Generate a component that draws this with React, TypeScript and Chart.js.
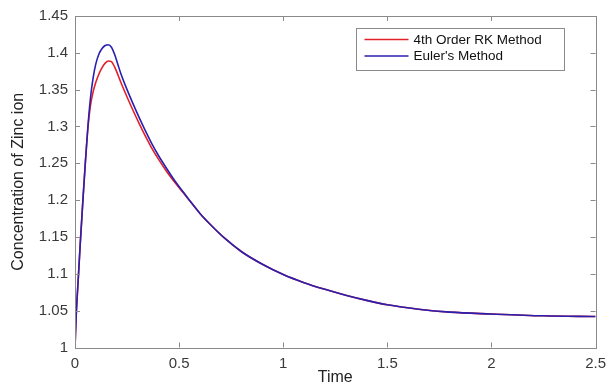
import React, { useEffect, useRef } from "react";
import { Chart, registerables } from "chart.js";

Chart.register(...registerables);

const timeValues: number[] = [
  0, 0.006, 0.016, 0.025, 0.038, 0.049, 0.062, 0.074, 0.087, 0.1, 0.116, 0.13, 0.145, 0.16,
  0.175, 0.19, 0.205, 0.22, 0.25, 0.28, 0.31, 0.34, 0.37, 0.4, 0.44, 0.48, 0.52, 0.56, 0.6,
  0.65, 0.72, 0.8, 0.9, 1.0, 1.1, 1.2, 1.3, 1.4, 1.5, 1.65, 1.8, 2.0, 2.25, 2.5,
];

const rk4Values: number[] = [
  1.0, 1.045, 1.095, 1.14, 1.2, 1.248, 1.298, 1.328, 1.347, 1.36, 1.372, 1.38, 1.386, 1.389,
  1.388, 1.381, 1.371, 1.36, 1.34, 1.321, 1.303, 1.286, 1.27, 1.256, 1.239, 1.224, 1.21,
  1.196, 1.182, 1.167, 1.148, 1.13, 1.113, 1.099, 1.088, 1.079, 1.071, 1.064, 1.058, 1.052,
  1.048, 1.0455, 1.043, 1.042,
];

const eulerValues: number[] = [
  1.0, 1.045, 1.095, 1.14, 1.2, 1.248, 1.3, 1.338, 1.366, 1.385, 1.399, 1.406, 1.41, 1.411,
  1.4075, 1.398, 1.385, 1.372, 1.35, 1.33, 1.311, 1.293, 1.276, 1.261, 1.243, 1.226, 1.211,
  1.196, 1.182, 1.167, 1.148, 1.13, 1.113, 1.099, 1.088, 1.079, 1.071, 1.064, 1.058, 1.052,
  1.048, 1.0455, 1.043, 1.042,
];

const seriesLabels: string[] = ["4th Order RK Method", "Euler's Method"];
const xTickValues: number[] = [0, 0.5, 1, 1.5, 2, 2.5];
const yTickValues: number[] = [1, 1.05, 1.1, 1.15, 1.2, 1.25, 1.3, 1.35, 1.4, 1.45];
const xTitle = "Time";
const yTitle = "Concentration of Zinc ion";

const FONT = "'Liberation Sans', Arial, Helvetica, sans-serif";
const FRAME = "#8a8a8a";
const TEXT = "#3a3a3a";
const RED = "#e3202a";
const BLUE = "#2a20b0";

const fmt = (v: number) => String(Number(v.toFixed(2)));

const framePlugin = {
  id: "matlabFrame",
  afterDatasetsDraw(chart: any) {
    const { ctx, chartArea, scales } = chart;
    const { left, right, top, bottom } = chartArea;
    ctx.save();
    ctx.strokeStyle = FRAME;
    ctx.lineWidth = 1;
    ctx.strokeRect(Math.round(left) + 0.5, Math.round(top) + 0.5, Math.round(right - left), Math.round(bottom - top));
    const tl = 5;
    ctx.beginPath();
    xTickValues.forEach((v) => {
      const x = Math.round(scales.x.getPixelForValue(v)) + 0.5;
      ctx.moveTo(x, bottom);
      ctx.lineTo(x, bottom - tl);
      ctx.moveTo(x, top);
      ctx.lineTo(x, top + tl);
    });
    yTickValues.forEach((v) => {
      const y = Math.round(scales.y.getPixelForValue(v)) + 0.5;
      ctx.moveTo(left, y);
      ctx.lineTo(left + tl, y);
      ctx.moveTo(right, y);
      ctx.lineTo(right - tl, y);
    });
    ctx.stroke();

    // legend box
    const bx = Math.round(right - 240) + 0.5;
    const by = Math.round(top + 12) + 0.5;
    const bw = 208;
    const bh = 42;
    ctx.fillStyle = "#ffffff";
    ctx.fillRect(bx, by, bw, bh);
    ctx.strokeStyle = FRAME;
    ctx.strokeRect(bx, by, bw, bh);
    ctx.font = `13.5px ${FONT}`;
    ctx.textBaseline = "middle";
    ctx.textAlign = "left";
    chart.data.datasets.forEach((ds: any, i: number) => {
      const y = by + 11 + i * 16.5;
      ctx.strokeStyle = ds.borderColor;
      ctx.lineWidth = 1.5;
      ctx.beginPath();
      ctx.moveTo(bx + 8, y);
      ctx.lineTo(bx + 52, y);
      ctx.stroke();
      ctx.fillStyle = "#111111";
      ctx.fillText(ds.label, bx + 57, y + 0.5);
    });
    ctx.restore();
  },
};

export default function App() {
  const ref = useRef<HTMLCanvasElement | null>(null);

  useEffect(() => {
    if (!ref.current) return;
    const mk = (vals: number[]) => timeValues.map((t, i) => ({ x: t, y: vals[i] }));
    const chart = new Chart(ref.current, {
      type: "line",
      data: {
        datasets: [
          {
            label: seriesLabels[0],
            data: mk(rk4Values),
            borderColor: RED,
            borderWidth: 1.6,
            pointRadius: 0,
            cubicInterpolationMode: "monotone",
            fill: false,
            order: 1,
          },
          {
            label: seriesLabels[1],
            data: mk(eulerValues),
            borderColor: BLUE,
            borderWidth: 1.6,
            pointRadius: 0,
            cubicInterpolationMode: "monotone",
            fill: false,
            order: 0,
          },
        ],
      },
      options: {
        animation: false,
        responsive: false,
        devicePixelRatio: 1,
        layout: { padding: { left: 0, right: 12, top: 15, bottom: 0 } },
        plugins: {
          legend: { display: false },
          tooltip: { enabled: false },
        },
        scales: {
          x: {
            type: "linear",
            min: 0,
            max: 2.5,
            afterBuildTicks: (s: any) => {
              s.ticks = xTickValues.map((v) => ({ value: v }));
            },
            afterFit: (s: any) => {
              s.height = 41.5;
            },
            grid: { display: false, drawTicks: false, tickLength: 0 },
            border: { display: false },
            ticks: {
              padding: 7,
              maxRotation: 0,
              autoSkip: false,
              color: TEXT,
              font: { family: FONT, size: 15 },
              callback: (v: any) => fmt(Number(v)),
            },
            title: {
              display: true,
              text: xTitle,
              color: "#222222",
              font: { family: FONT, size: 16 },
              padding: { top: 0, bottom: 1.5 },
            },
          },
          y: {
            type: "linear",
            min: 1,
            max: 1.45,
            afterBuildTicks: (s: any) => {
              s.ticks = yTickValues.map((v) => ({ value: v }));
            },
            afterFit: (s: any) => {
              s.width = 75;
            },
            grid: { display: false, drawTicks: false, tickLength: 0 },
            border: { display: false },
            ticks: {
              padding: 7,
              autoSkip: false,
              color: TEXT,
              font: { family: FONT, size: 15 },
              callback: (v: any) => fmt(Number(v)),
            },
            title: {
              display: true,
              text: yTitle,
              color: "#222222",
              font: { family: FONT, size: 16 },
              padding: { top: 8.5, bottom: 0 },
            },
          },
        },
      },
      plugins: [framePlugin],
    } as any);
    return () => chart.destroy();
  }, []);

  return (
    <div style={{ position: "absolute", left: 0, top: 0, width: 613, height: 389, background: "#ffffff" }}>
      <canvas ref={ref} width={613} height={389} style={{ display: "block", width: 613, height: 389 }} />
    </div>
  );
}
